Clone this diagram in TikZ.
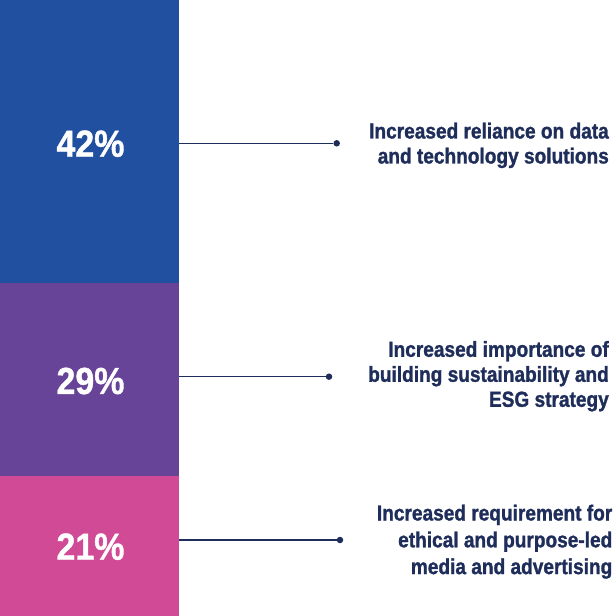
\documentclass[tikz,border=0pt]{standalone}
\usepackage{fontspec}
\setmainfont{Liberation Sans}
\newfontfamily\labfont{Liberation Sans Bold}[FakeStretch=0.875,FakeBold=1.2]
\newfontfamily\pctfont{Liberation Sans Bold}[FakeStretch=0.9,FakeBold=1]
\definecolor{barblue}{RGB}{34,80,160}
\definecolor{barpurple}{RGB}{103,68,152}
\definecolor{barpink}{RGB}{209,74,150}
\definecolor{navy}{RGB}{30,45,90}
\begin{document}
\begin{tikzpicture}[x=1pt,y=-1pt,
  bar/.style={rectangle, inner sep=0, outer sep=0, draw=none, minimum width=179pt},
  pct/.style={inner sep=0, text=white, font=\pctfont\fontsize{37.7}{40}\selectfont},
  lab/.style={inner sep=0, text=navy, align=right, anchor=north east,
    font=\labfont\fontsize{21.8}{25}\selectfont},
  dot/.style={circle, fill=navy, inner sep=0, minimum size=6.5pt},
  conn/.style={draw=navy, line width=1.3pt}]
\useasboundingbox (0,0) rectangle (613,616);
\fill[white] (0,0) rectangle (613,616);
% bar segments
\node[bar, fill=barblue, minimum height=283pt] (b1) at (89.5,141.5) {};
\node[bar, fill=barpurple, minimum height=193pt] (b2) at (89.5,379.5) {};
\node[bar, fill=barpink, minimum height=140pt] (b3) at (89.5,546) {};
% percentages
\node[pct] (p1) at (90.5,143.7) {42\%};
\node[pct] (p2) at (90.5,381) {29\%};
\node[pct] (p3) at (90.5,546.7) {21\%};
% dots
\node[dot] (d1) at (336.7,143.3) {};
\node[dot] (d2) at (329,376.7) {};
\node[dot] (d3) at (340,540) {};
% connectors
\draw[conn] (b1.east |- d1) -- (d1);
\draw[conn] (b2.east |- d2) -- (d2);
\draw[conn] (b3.east |- d3) -- (d3);
% labels
\node[lab] (t1) at (609,122.5) {Increased reliance on data\\and technology solutions};
\node[lab] (t2) at (609,340.8) {Increased importance of\\building sustainability and\\ESG strategy};
\node[lab, font=\labfont\fontsize{21.8}{26.8}\selectfont] (t3) at (612.5,504.5) {Increased requirement for\\ethical and purpose-led\\media and advertising};
\end{tikzpicture}
\end{document}
